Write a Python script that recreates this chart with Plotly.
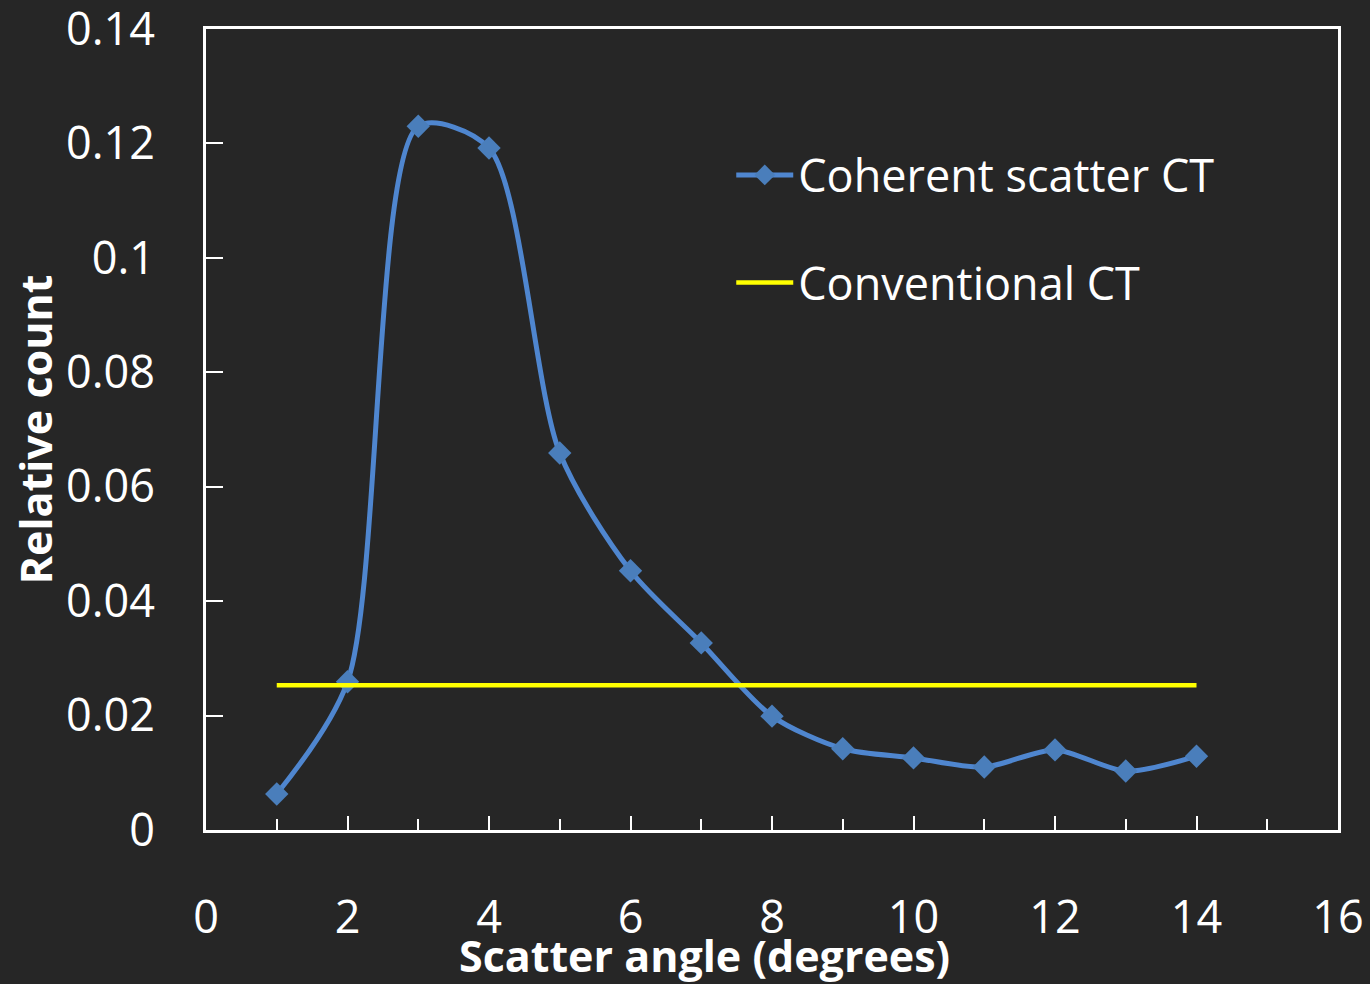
import plotly.graph_objects as go

angles = [1, 2, 3, 4, 5, 6, 7, 8, 9, 10, 11, 12, 13, 14]
coherent = [0.0063, 0.0259, 0.1230, 0.1192, 0.0659, 0.0453, 0.0327, 0.0199,
            0.0142, 0.0126, 0.0110, 0.0140, 0.0103, 0.0129]
conventional = [0.0253] * 14

x_major = [0, 2, 4, 6, 8, 10, 12, 14, 16]
y_ticks = [0, 0.02, 0.04, 0.06, 0.08, 0.1, 0.12, 0.14]
y_labels = ["0", "0.02", "0.04", "0.06", "0.08", "0.1", "0.12", "0.14"]

BG = "#262626"
FONT = "Open Sans, Noto Sans, sans-serif"

fig = go.Figure()
fig.add_trace(go.Scatter(
    x=angles, y=coherent, name="Coherent scatter CT", legendgroup="a",
    mode="lines+markers",
    line=dict(color="#4F86CF", width=5, shape="spline", smoothing=0.8),
    marker=dict(symbol="diamond", size=18, color="#4A7EBB"),
))
fig.add_trace(go.Scatter(
    x=angles, y=conventional, name="Conventional CT", legendgroup="b",
    mode="lines",
    line=dict(color="#FFFF00", width=4.5),
))

fig.update_layout(
    width=1370, height=984,
    paper_bgcolor=BG, plot_bgcolor=BG,
    margin=dict(l=206, r=32, t=29, b=154),
    font=dict(family=FONT, color="white", size=44),
    showlegend=True,
    legend=dict(
        x=0.464, y=0.8625, xanchor="left", yanchor="top",
        bgcolor="rgba(0,0,0,0)", font=dict(size=45, color="white"),
        traceorder="grouped", tracegroupgap=46, itemwidth=57,
    ),
    xaxis=dict(
        range=[0, 16], tickvals=x_major, ticktext=[str(v) for v in x_major],
        ticks="inside", ticklen=14, tickwidth=2, tickcolor="white",
        minor=dict(dtick=1, ticks="inside", ticklen=11, tickwidth=2, tickcolor="white", showgrid=False),
        showline=True, linecolor="white", linewidth=3, mirror=True,
        showgrid=False, zeroline=False, automargin=False, ticklabeloverflow="allow",
        tickfont=dict(size=45, color="white"), ticklabelstandoff=46,
    ),
    yaxis=dict(
        range=[0, 0.14], tickvals=y_ticks, ticktext=y_labels,
        ticks="inside", ticklen=17, tickwidth=2, tickcolor="white",
        showline=True, linecolor="white", linewidth=3, mirror=True,
        showgrid=False, zeroline=False, automargin=False, ticklabeloverflow="allow",
        tickfont=dict(size=45, color="white"), ticklabelstandoff=39,
        title=dict(text="<b>Relative count</b>", font=dict(size=43, color="white"), standoff=0),
    ),
    annotations=[dict(
        text="<b>Scatter angle (degrees)</b>", xref="paper", yref="paper",
        x=(704 - 206) / 1132, y=-(955 - 830) / 801, xanchor="center", yanchor="middle",
        showarrow=False, font=dict(size=43, color="white"),
    )],
)

fig.write_html("out.html")
